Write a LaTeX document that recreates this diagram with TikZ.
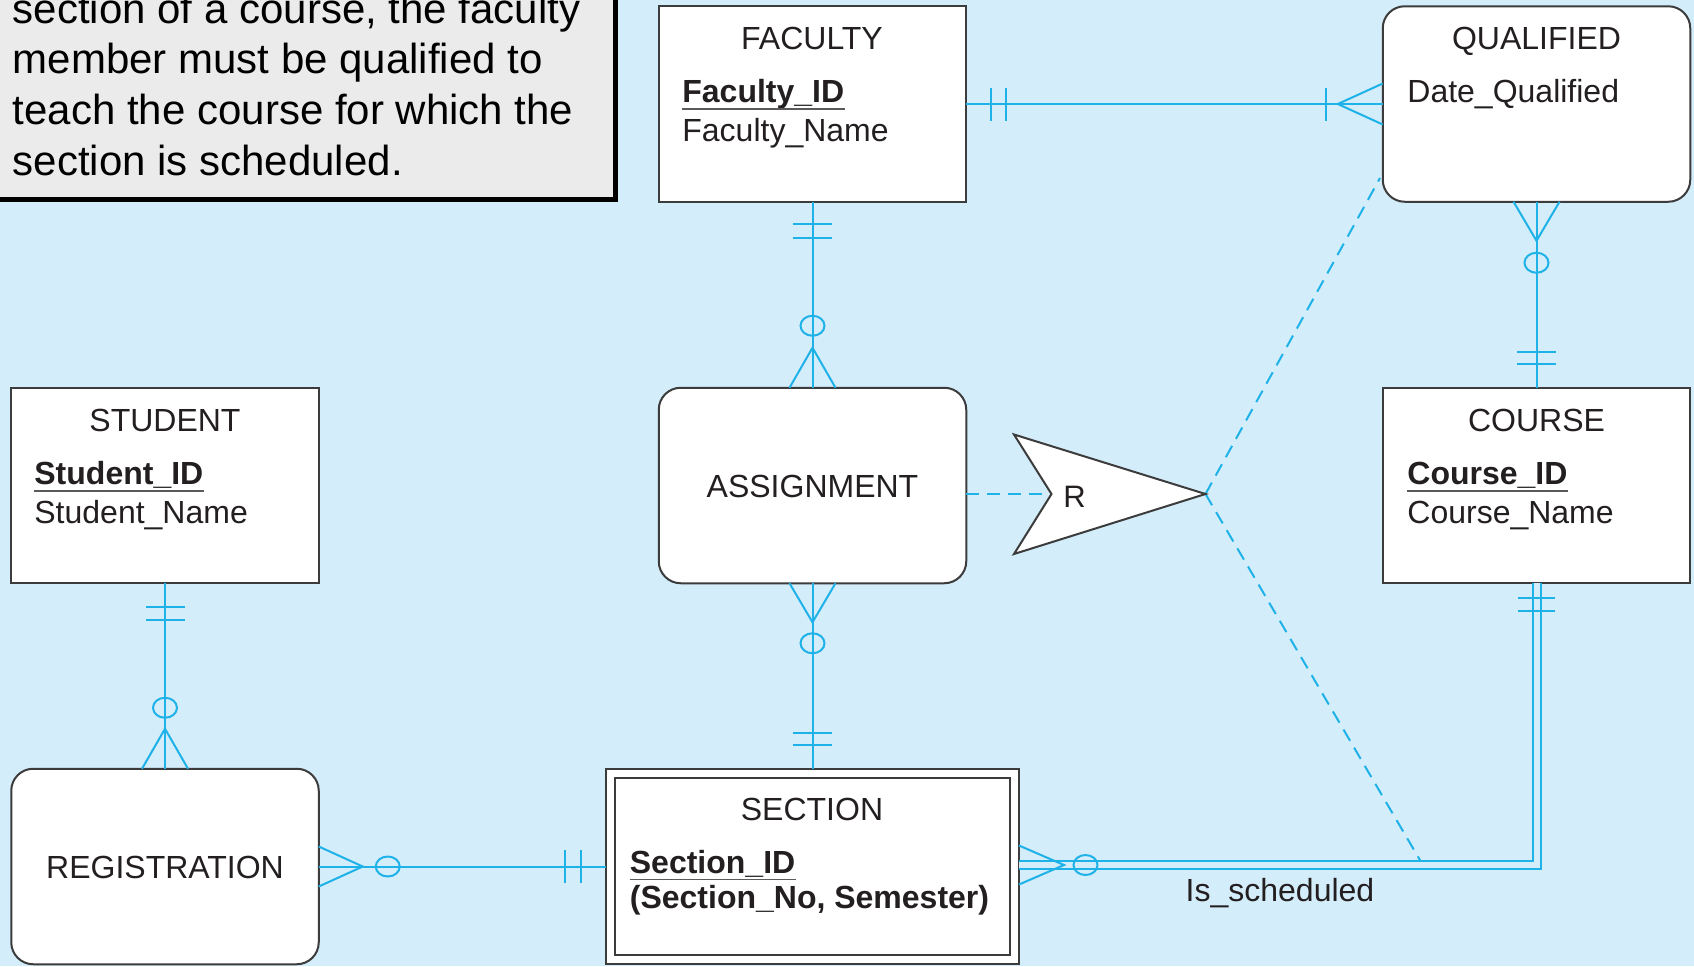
\documentclass[tikz,border=0pt]{standalone}
\usepackage{fontspec}
\setmainfont{Liberation Sans}
\usetikzlibrary{calc}
\definecolor{bg}{RGB}{212,237,250}
\definecolor{linec}{RGB}{30,178,232}
\definecolor{boxc}{RGB}{60,60,60}
\definecolor{txtc}{RGB}{35,31,32}
\definecolor{notefill}{RGB}{235,235,235}
\definecolor{ulc}{RGB}{90,90,90}
\begin{document}
\begin{tikzpicture}[x=0.5pt,y=-0.5pt,
  ent/.style={draw=boxc, line width=1pt, fill=white, minimum width=153.75pt, minimum height=97.75pt, inner sep=0pt, outer sep=0pt},
  assoc/.style={ent, rounded corners=11pt},
  ttl/.style={anchor=base, inner sep=0pt, text=txtc, font=\fontsize{16pt}{19pt}\selectfont},
  attr/.style={anchor=base west, inner sep=0pt, text=txtc, font=\fontsize{16pt}{19pt}\selectfont},
  keyattr/.style={attr, font=\fontsize{16pt}{19pt}\selectfont\bfseries},
  conn/.style={draw=linec, line width=1pt},
  dsh/.style={conn, dash pattern=on 6.5pt off 4pt},
  dbl/.style={draw=linec, line width=1pt, double=bg, double distance=3pt},
  ul/.style={draw=ulc, line width=0.8pt},
  notetxt/.style={anchor=base west, inner sep=0pt, text=black, font=\fontsize{21pt}{25pt}\selectfont},
  notebox/.style={draw=black, line width=2.5pt, fill=notefill, inner sep=0pt, outer sep=0pt},
  cf/.style={x radius=6pt, y radius=5pt}
]
\fill[bg] (0,0) rectangle (1694,966);
\useasboundingbox (0,0) rectangle (1694,966);
\clip (0,0) rectangle (1694,966);

% note box
\node[notebox, minimum width=317.5pt, minimum height=129.75pt] (note) at (297.5,69.75) {};
\node[notetxt] (l1) at (12.5,23) {section of a course, the faculty};
\node[notetxt] (l2) at (12.5,73.5) {member must be qualified to};
\node[notetxt] (l3) at (12.5,124) {teach the course for which the};
\node[notetxt] (l4) at (12.5,175) {section is scheduled.};

% entities
\node[ent] (fac) at (812.5,104) {};
\node[assoc] (qual) at (1536.5,104) {};
\node[ent] (stu) at (165,485.5) {};
\node[assoc] (asg) at (812.5,485.5) {};
\node[ent] (crs) at (1536.5,485.5) {};
\node[assoc] (reg) at (165,866.5) {};
\node[ent, minimum width=206.5pt] (sec) at (812.5,866.5) {};
\draw[draw=boxc, line width=1pt] ($(sec.north west)+(9,9)$) rectangle ($(sec.south east)+(-9,-9)$);

% texts
\node[ttl] (facT) at (812,49.5) {FACULTY};
\node[keyattr] (facK) at (682,102.5) {Faculty\_ID};
\draw[ul] ($(facK.base west)+(0,6.5)$) -- ($(facK.base east)+(0,6.5)$);
\node[attr] (facA) at (682,141) {Faculty\_Name};

\node[ttl] (qualT) at (1536.5,49.5) {QUALIFIED};
\node[attr] (qualA) at (1407,102.5) {Date\_Qualified};

\node[ttl] (stuT) at (165,431.5) {STUDENT};
\node[keyattr] (stuK) at (34,484.5) {Student\_ID};
\draw[ul] ($(stuK.base west)+(0,6.5)$) -- ($(stuK.base east)+(0,6.5)$);
\node[attr] (stuA) at (34,523) {Student\_Name};

\node[ttl] (asgT) at (812.5,497.5) {ASSIGNMENT};

\node[ttl] (crsT) at (1536.5,431.5) {COURSE};
\node[keyattr] (crsK) at (1407,484.5) {Course\_ID};
\draw[ul] ($(crsK.base west)+(0,6.5)$) -- ($(crsK.base east)+(0,6.5)$);
\node[attr] (crsA) at (1407,523) {Course\_Name};

\node[ttl] (regT) at (165,878.5) {REGISTRATION};

\node[ttl] (secT) at (812,820) {SECTION};
\node[keyattr] (secK) at (629.5,873) {Section\_ID};
\draw[ul] ($(secK.base west)+(0,6.3)$) -- ($(secK.base east)+(0,6.3)$);
\node[keyattr] (secA) at (629.5,908.5) {(Section\_No, Semester)};

% R (associative) shape and dashed lines
\coordinate (Rtl) at (1014,434.5);
\coordinate (Rn) at (1051.5,494);
\coordinate (Rbl) at (1014,554);
\coordinate (Rtip) at (1205.5,494);
\coordinate (qd) at (1380,178);
\coordinate (isd) at (1420.5,861);
\draw[dsh] (asg.east |- Rn) -- (Rn);
\draw[dsh] (Rtip) -- (qd);
\draw[dsh] (Rtip) -- (isd);
\draw[draw=boxc, line width=1pt, fill=white] (Rtl) -- (Rn) -- (Rbl) -- (Rtip) -- cycle;
\node[ttl, font=\fontsize{15.5pt}{17pt}\selectfont] (rlab) at (1074.5,507) {R};

% FACULTY - QUALIFIED
\draw[conn] (fac.east) -- (qual.west);
\draw[conn] ($(fac.east)+(25,-16.5)$) -- ++(0,33);
\draw[conn] ($(fac.east)+(40,-16.5)$) -- ++(0,33);
\draw[conn] ($(qual.west)+(-57,-16.5)$) -- ++(0,33);
\draw[conn] ($(qual.west)+(0,-20.5)$) -- ($(qual.west)+(-45,0)$) -- ($(qual.west)+(0,20.5)$);

% FACULTY - ASSIGNMENT
\draw[conn] (fac.south) -- (asg.north);
\draw[conn] ($(fac.south)+(-19.5,22)$) -- ++(39,0);
\draw[conn] ($(fac.south)+(-19.5,36)$) -- ++(39,0);
\draw[conn] ($(asg.north)+(0,-62)$) ellipse[cf];
\draw[conn] ($(asg.north)+(-23,0)$) -- ($(asg.north)+(0,-40)$) -- ($(asg.north)+(23,0)$);

% ASSIGNMENT - SECTION
\draw[conn] (asg.south) -- (sec.north);
\draw[conn] ($(asg.south)+(-23,0)$) -- ($(asg.south)+(0,39)$) -- ($(asg.south)+(23,0)$);
\draw[conn] ($(asg.south)+(0,60)$) ellipse[cf];
\draw[conn] ($(sec.north)+(-19.5,-36)$) -- ++(39,0);
\draw[conn] ($(sec.north)+(-19.5,-24)$) -- ++(39,0);

% STUDENT - REGISTRATION
\draw[conn] (stu.south) -- (reg.north);
\draw[conn] ($(stu.south)+(-19.5,23.5)$) -- ++(39,0);
\draw[conn] ($(stu.south)+(-19.5,37)$) -- ++(39,0);
\draw[conn] ($(reg.north)+(0,-61)$) ellipse[cf];
\draw[conn] ($(reg.north)+(-23,0)$) -- ($(reg.north)+(0,-40)$) -- ($(reg.north)+(23,0)$);

% REGISTRATION - SECTION
\draw[conn] (reg.east) -- (sec.west);
\draw[conn] ($(reg.east)+(0,-20)$) -- ($(reg.east)+(44,0)$) -- ($(reg.east)+(0,20)$);
\draw[conn] ($(reg.east)+(69,0)$) ellipse[cf];
\draw[conn] ($(sec.west)+(-41,-16.5)$) -- ++(0,33);
\draw[conn] ($(sec.west)+(-25,-16.5)$) -- ++(0,33);

% QUALIFIED - COURSE
\draw[conn] (qual.south) -- (crs.north);
\draw[conn] ($(qual.south)+(-23,0)$) -- ($(qual.south)+(0,39)$) -- ($(qual.south)+(23,0)$);
\draw[conn] ($(qual.south)+(0,61)$) ellipse[cf];
\draw[conn] ($(crs.north)+(-19.5,-36)$) -- ++(39,0);
\draw[conn] ($(crs.north)+(-19.5,-24)$) -- ++(39,0);

% SECTION - COURSE (Is_scheduled)
\coordinate (se) at ($(sec.east)+(0,-1.5)$);
\draw[dbl] (se) -- (se -| crs.south) -- (crs.south);
\draw[conn] ($(se)+(0,-19.5)$) -- ($(se)+(45,0)$) -- ($(se)+(0,19.5)$);
\draw[conn] ($(se)+(66.5,0)$) ellipse[cf];
\draw[conn] ($(crs.south)+(-18.5,15)$) -- ++(37,0);
\draw[conn] ($(crs.south)+(-18.5,28)$) -- ++(37,0);
\node[ttl] (isl) at (1280,901) {Is\_scheduled};
\end{tikzpicture}
\end{document}
